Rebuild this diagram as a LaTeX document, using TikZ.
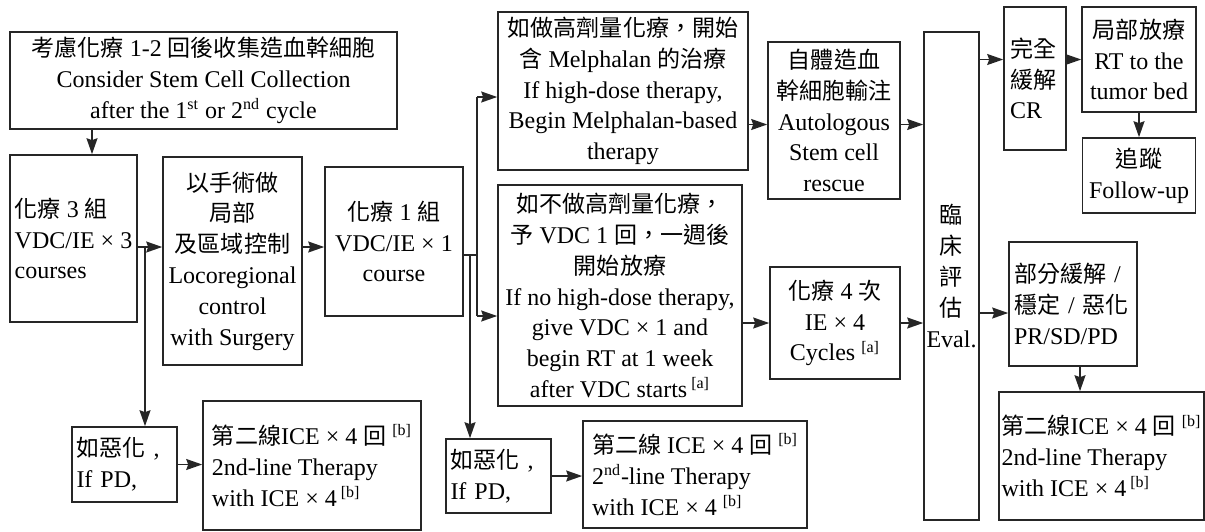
\documentclass[tikz,border=0pt]{standalone}
\usepackage{fontspec}
\setmainfont{Liberation Serif}
\newfontfamily\cj[Scale=0.96]{Noto Sans CJK TC}
\usepackage{tikz}
\usetikzlibrary{arrows.meta}

\tikzset{
  caja/.style={draw=black!85, line width=0.8pt, inner sep=2pt, align=center,
    font=\fontsize{12}{15.4}\selectfont},
  izq/.style={align=left},
  izqw/.style={align=left, text width=#1},
  tam/.style 2 args={minimum width=#1*0.5pt, minimum height=#2*0.5pt},
  flecha/.style={draw=black!85, line width=0.8pt, -{Stealth[length=8pt,width=5.5pt,inset=1pt]}},
  linea/.style={draw=black!85, line width=0.8pt}
}

\begin{document}
\begin{tikzpicture}[x=0.5pt,y=-0.5pt]
  \useasboundingbox (0,0) rectangle (1205,531);

  % Primera fase: quimioterapia y cirugia
  \node[caja, tam={387}{97}] (coleccion) at (203.5,80.5)
    {{\cj 考慮化療} 1-2 {\cj 回後收集造血幹細胞}\\Consider Stem Cell Collection\\after the 1\textsuperscript{st} or 2\textsuperscript{nd} cycle};
  \node[caja, izq, tam={127}{167}] (quimio3) at (73.5,238.5)
    {{\cj 化療} 3 {\cj 組}\\VDC/IE × 3\\courses};
  \node[caja, tam={139}{208}] (cirugia) at (232.5,261)
    {{\cj 以手術做}\\{\cj 局部}\\{\cj 及區域控制}\\Locoregional\\control\\with Surgery};
  \node[caja, tam={138}{149}] (quimio1) at (394,241.5)
    {{\cj 化療} 1 {\cj 組}\\VDC/IE × 1\\course};

  % Ramas con y sin dosis alta
  \node[caja, tam={250}{158}] (altadosis) at (623,91)
    {{\cj 如做高劑量化療，開始}\\{\cj 含} Melphalan {\cj 的治療}\\If high-dose therapy,\\Begin Melphalan-based\\therapy};
  \node[caja, tam={244}{221}] (sinaltadosis) at (620,295.5)
    {{\cj 如不做高劑量化療，}\\{\cj 予} VDC 1 {\cj 回，一週後}\\{\cj 開始放療}\\If no high-dose therapy,\\give VDC × 1 and\\begin RT at 1 week\\after VDC starts\,\textsuperscript{[a]}};
  \node[caja, tam={132}{157}] (autologo) at (834,120.5)
    {{\cj 自體造血}\\{\cj 幹細胞輸注}\\Autologous\\Stem cell\\rescue};
  \node[caja, tam={130}{112}] (quimio4) at (835,323)
    {{\cj 化療} 4 {\cj 次}\\IE × 4\\Cycles \textsuperscript{[a]}};

  % Evaluacion y resultados
  \node[caja, inner xsep=1pt, tam={55}{488}] (evaluacion) at (951.5,276)
    {{\cj 臨}\\{\cj 床}\\{\cj 評}\\{\cj 估}\\Eval.};
  \node[caja, izqw=25pt, inner xsep=3pt, tam={60}{143}] (cr) at (1035,78.5)
    {{\cj 完全}\\{\cj 緩解}\\CR};
  \node[caja, tam={114}{105}] (rt) at (1139,59.5)
    {{\cj 局部放療}\\RT to the\\tumor bed};
  \node[caja, tam={113}{75}] (seguimiento) at (1139,175.5)
    {{\cj 追蹤}\\Follow-up};
  \node[caja, izqw=59pt, inner xsep=2.5pt, tam={128}{124}] (pr) at (1073,304)
    {{\cj 部分緩解} /\\{\cj 穩定} / {\cj 惡化}\\PR/SD/PD};
  \node[caja, izq, inner xsep=1pt, tam={205}{128}] (segunda3) at (1101.5,456)
    {{\cj 第二線}ICE × 4 {\cj 回} \textsuperscript{[b]}\\2nd-line Therapy\\with ICE × 4\,\textsuperscript{[b]}};

  % Progresion
  \node[caja, izqw=48pt, inner xsep=2pt, tam={105}{75}] (progresa1) at (124.5,464.5)
    {{\cj 如惡化} ,\\If PD,};
  \node[caja, izq, tam={218}{129}] (segunda1) at (312,465.5)
    {{\cj 第二線}ICE × 4 {\cj 回} \textsuperscript{[b]}\\2nd-line Therapy\\with ICE × 4\,\textsuperscript{[b]}};
  \node[caja, izqw=48pt, inner xsep=2pt, tam={105}{74}] (progresa2) at (498.5,476)
    {{\cj 如惡化} ,\\If PD,};
  \node[caja, izq, tam={224}{107}] (segunda2) at (695,474.5)
    {{\cj 第二線} ICE × 4 {\cj 回} \textsuperscript{[b]}\\2\textsuperscript{nd}-line Therapy\\with ICE × 4 \textsuperscript{[b]}};

  % Puntos de cruce
  \coordinate (p1) at (145,247);
  \coordinate (p2) at (470,255);
  \coordinate (p3) at (477,255);
  \coordinate (p4) at (477,97);
  \coordinate (p5) at (477,316);
  \coordinate (p6) at (92,0);

  % Flechas
  \draw[flecha] (coleccion.south -| p6) -- (quimio3.north -| p6);
  \draw[flecha] (quimio3.east |- p1) -- (cirugia.west |- p1);
  \draw[flecha] (p1) -- (progresa1.north -| p1);
  \draw[flecha] (cirugia.east |- p1) -- (quimio1.west |- p1);
  \draw[linea] (quimio1.east |- p2) -- (p3);
  \draw[flecha] (p2) -- (progresa2.north -| p2);
  \draw[linea] (p4) -- (p5);
  \draw[flecha] (p4) -- (altadosis.west |- p4);
  \draw[flecha] (p5) -- (sinaltadosis.west |- p5);
  \draw[flecha] ([yshift=-2pt]altadosis.east |- autologo.west) -- ([yshift=-2pt]autologo.west);
  \draw[flecha] (sinaltadosis.east |- quimio4.west) -- (quimio4.west);
  \draw[flecha] ([yshift=-2pt]autologo.east) -- ([yshift=-2pt]evaluacion.west |- autologo.east);
  \draw[flecha] (quimio4.east) -- (evaluacion.west |- quimio4.east);
  \draw[flecha] (evaluacion.east |- rt.west) -- (cr.west |- rt.west);
  \draw[flecha] (cr.east |- rt.west) -- (rt.west);
  \draw[flecha] (rt.south) -- (seguimiento.north);
  \draw[flecha] ([yshift=-4.5pt]evaluacion.east |- pr.west) -- ([yshift=-4.5pt]pr.west);
  \draw[flecha] ([xshift=3.5pt]pr.south) -- ([xshift=3.5pt]segunda3.north -| pr.south);
  \draw[flecha] (progresa1.east) -- (segunda1.west |- progresa1.east);
  \draw[flecha] (progresa2.east) -- (segunda2.west |- progresa2.east);
\end{tikzpicture}
\end{document}
